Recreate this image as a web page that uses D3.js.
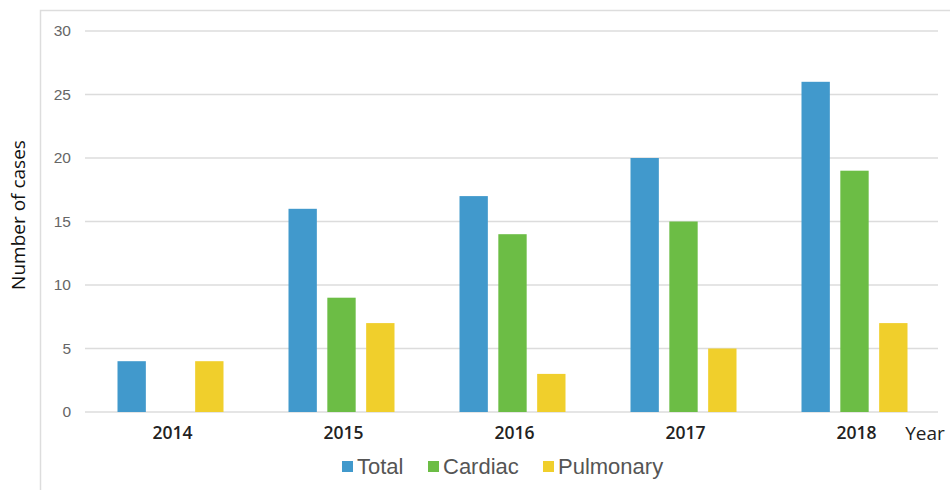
<!DOCTYPE html>
<html>
<head>
<style>
body { margin: 0; background: #fff; }
svg text { font-family: "Liberation Sans", Arial, sans-serif; }
</style>
<script src="https://d3js.org/d3.v7.min.js"></script>
</head>
<body>
<svg width="950" height="490"></svg>
<script>
var years = ["2014", "2015", "2016", "2017", "2018"];
var seriesNames = ["Total", "Cardiac", "Pulmonary"];
var total = [4, 16, 17, 20, 26];
var cardiac = [0, 9, 14, 15, 19];
var pulmonary = [4, 7, 3, 5, 7];
var yTicks = [0, 5, 10, 15, 20, 25, 30];
var colors = ["#4199cc", "#6cbd45", "#f0cf2c"];

var values = [total, cardiac, pulmonary];
var svg = d3.select("svg");

// frame
svg.append("path")
  .attr("d", "M40.5,490 V10.5 H950")
  .attr("fill", "none")
  .attr("stroke", "#ddd")
  .attr("stroke-width", 1.5);

var xScale = d3.scaleBand().domain(years).range([85, 940]);
var inner = d3.scaleBand().domain(seriesNames).range([0, 106]).paddingInner(0.27);
var yScale = d3.scaleLinear().domain([0, 30]).range([412, 31]);

// gridlines
svg.append("g").selectAll("line")
  .data(yTicks)
  .join("line")
  .attr("x1", 85).attr("x2", 938)
  .attr("y1", d => yScale(d)).attr("y2", d => yScale(d))
  .attr("stroke", "#dcdcdc")
  .attr("stroke-width", 1.3);

var axisY = d3.axisLeft(yScale).tickValues(yTicks).tickSize(0).tickPadding(0);
svg.append("g")
  .attr("transform", "translate(71,0)")
  .call(axisY)
  .call(g => g.select(".domain").remove())
  .selectAll("text")
  .attr("fill", "#666")
  .attr("font-size", 15.5)
  .style("font-family", "'Liberation Sans', Arial, sans-serif");

// bars
var groups = svg.append("g").selectAll("g")
  .data(years)
  .join("g")
  .attr("transform", d => "translate(" + (xScale(d) + xScale.bandwidth() / 2 - 53) + ",0)");

groups.selectAll("rect")
  .data((d, i) => seriesNames.map((s, j) => ({ s: s, v: values[j][i], c: colors[j] })))
  .join("rect")
  .attr("x", d => inner(d.s))
  .attr("width", inner.bandwidth())
  .attr("y", d => yScale(d.v))
  .attr("height", d => yScale(0) - yScale(d.v))
  .attr("fill", d => d.c);

// x labels
var axisX = d3.axisBottom(xScale).tickSize(0).tickPadding(0);
svg.append("g")
  .attr("transform", "translate(2,427)")
  .call(axisX)
  .call(g => g.select(".domain").remove())
  .selectAll("text")
  .attr("fill", "#222")
  .attr("font-size", 17.5)
  .attr("font-weight", 600)
  .style("font-family", "'Open Sans', 'DejaVu Sans', sans-serif");

svg.append("text")
  .attr("x", 925).attr("y", 440)
  .attr("text-anchor", "middle")
  .attr("font-size", 19)
  .attr("font-weight", 500)
  .attr("fill", "#222")
  .style("font-family", "'Open Sans', 'DejaVu Sans', sans-serif")
  .text("Year");

svg.append("text")
  .attr("transform", "translate(25,215) rotate(-90)")
  .attr("text-anchor", "middle")
  .attr("font-size", 19)
  .attr("font-weight", 500)
  .attr("fill", "#111")
  .style("font-family", "'Open Sans', 'DejaVu Sans', sans-serif")
  .text("Number of cases");

// legend
var legendX = [342, 428, 543];
var legend = svg.append("g").selectAll("g")
  .data(seriesNames)
  .join("g")
  .attr("transform", (d, i) => "translate(" + legendX[i] + ",466)");
legend.append("rect")
  .attr("x", 0).attr("y", -5).attr("width", 11).attr("height", 11)
  .attr("fill", (d, i) => colors[i]);
legend.append("text")
  .attr("x", 15).attr("y", 8)
  .attr("font-size", 22)
  .attr("fill", "#555")
  .text(d => d);
</script>
</body>
</html>
